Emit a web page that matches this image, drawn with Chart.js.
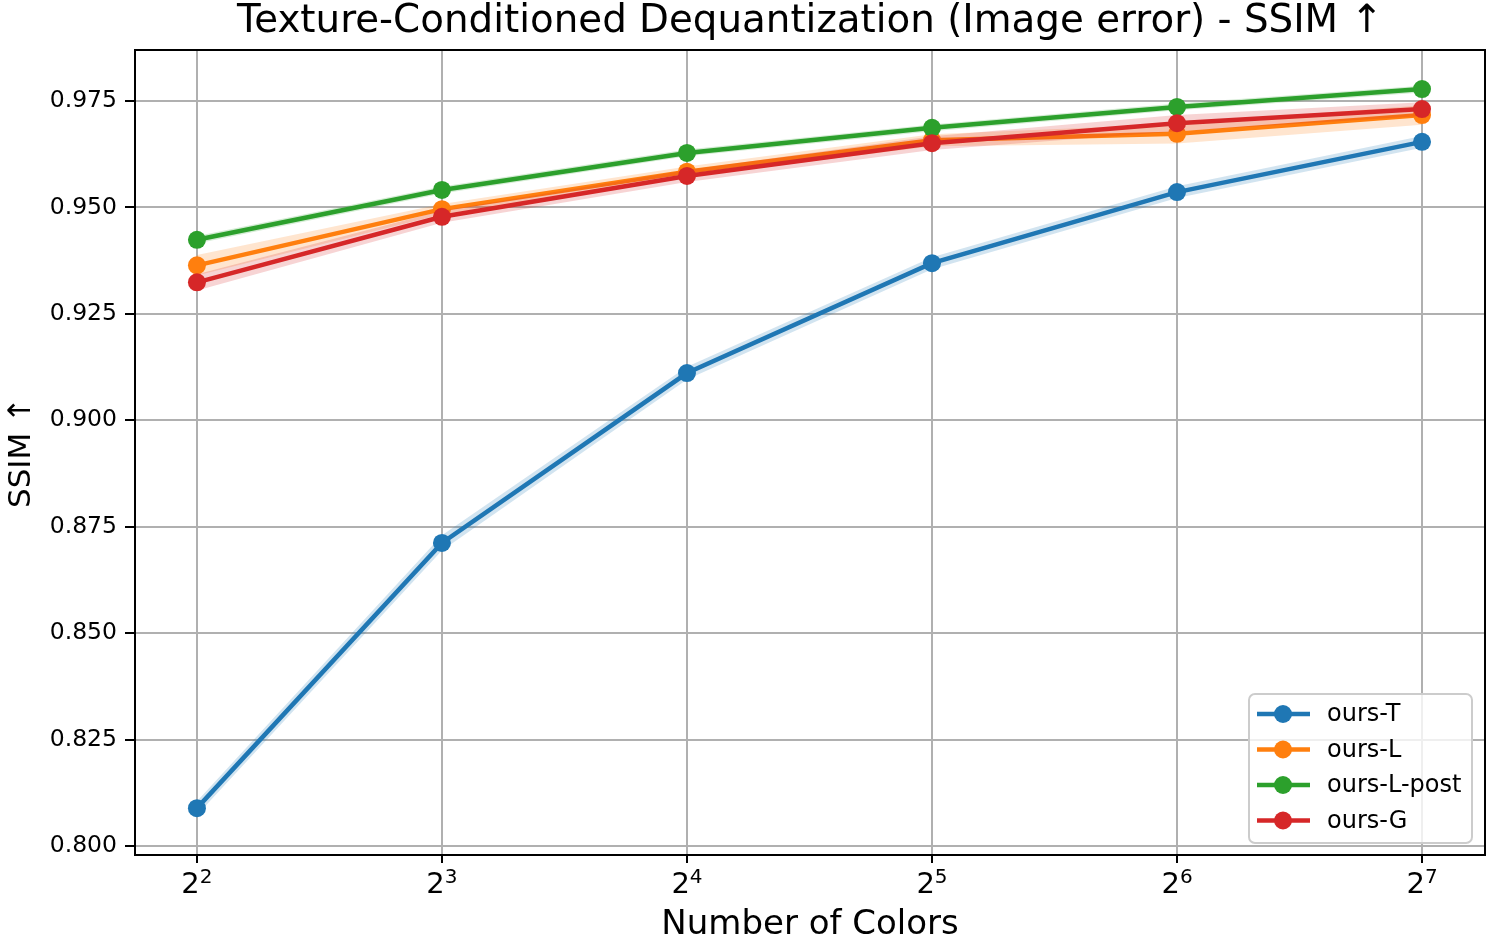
<!DOCTYPE html>
<html>
<head>
<meta charset="utf-8">
<script src="https://cdn.jsdelivr.net/npm/chart.js@4.4.1/dist/chart.umd.min.js"></script>
<style>
  body { margin: 0; background: #fff; }
  #wrap { width: 1494px; height: 952px; }
</style>
</head>
<body>
<div id="wrap"><canvas id="ssimChart" width="1494" height="952"></canvas></div>
<script>
// Data
const exponents = [2, 3, 4, 5, 6, 7];           // x = log2(number of colors)
const yTicks = [0.800, 0.825, 0.850, 0.875, 0.900, 0.925, 0.950, 0.975];

const seriesNames = ['ours-T', 'ours-L', 'ours-L-post', 'ours-G'];
const seriesColors = ['#1f77b4', '#ff7f0e', '#2ca02c', '#d62728'];

const oursT     = [0.8089, 0.8712, 0.9111, 0.9369, 0.9536, 0.9654];
const oursL     = [0.9364, 0.9496, 0.9584, 0.9658, 0.9673, 0.9717];
const oursLpost = [0.9424, 0.9541, 0.9628, 0.9687, 0.9736, 0.9778];
const oursG     = [0.9324, 0.9478, 0.9574, 0.9651, 0.9698, 0.9731];

// half-width of the shaded bands (std)
const oursTStd     = [0.0016, 0.0018, 0.0015, 0.0014, 0.0014, 0.0014];
const oursLStd     = [0.0024, 0.0012, 0.0012, 0.0014, 0.0023, 0.0023];
const oursLpostStd = [0.0009, 0.0008, 0.0008, 0.0008, 0.0008, 0.0008];
const oursGStd     = [0.0019, 0.0014, 0.0014, 0.0016, 0.0019, 0.0016];

const seriesMeans = [oursT, oursL, oursLpost, oursG];
const seriesStds = [oursTStd, oursLStd, oursLpostStd, oursGStd];

const FONT = "'DejaVu Sans', 'Liberation Sans', sans-serif";

function hexToRgba(hex, a) {
    const n = parseInt(hex.slice(1), 16);
    return `rgba(${(n >> 16) & 255}, ${(n >> 8) & 255}, ${n & 255}, ${a})`;
}

function points(values) {
    return exponents.map((x, i) => ({ x: x, y: values[i] }));
}

// build datasets: for each series an upper band, a lower band (filled to upper), then the line
const datasets = [];
seriesNames.forEach((name, i) => {
    const mean = seriesMeans[i];
    const std = seriesStds[i];
    const col = seriesColors[i];
    const base = 100 - i * 3;
    datasets.push({
        label: name + ' upper',
        data: points(mean.map((v, k) => v + std[k])),
        borderWidth: 0,
        pointRadius: 0,
        fill: false,
        order: base
    });
    datasets.push({
        label: name + ' lower',
        data: points(mean.map((v, k) => v - std[k])),
        borderWidth: 0,
        pointRadius: 0,
        backgroundColor: hexToRgba(col, 0.2),
        fill: '-1',
        order: base - 1
    });
    datasets.push({
        label: name,
        data: points(mean),
        borderColor: col,
        backgroundColor: col,
        borderWidth: 4.5,
        pointRadius: 9,
        pointBorderWidth: 0,
        pointBackgroundColor: col,
        fill: false,
        tension: 0,
        order: base - 2
    });
});

// frame, title, 2^n tick labels and the in-plot legend (matplotlib style)
const framePlugin = {
    id: 'framePlugin',
    afterDraw(chart) {
        const { ctx, chartArea: a } = chart;
        const xScale = chart.scales.x;
        ctx.save();

        // full black frame
        ctx.strokeStyle = '#000';
        ctx.lineWidth = 2;
        ctx.strokeRect(a.left, a.top, a.right - a.left, a.bottom - a.top);

        // title
        ctx.fillStyle = '#000';
        ctx.font = `38.8px ${FONT}`;
        ctx.textAlign = 'center';
        ctx.textBaseline = 'middle';
        ctx.fillText('Texture-Conditioned Dequantization (Image error) - SSIM ↑', (a.left + a.right) / 2, 22);

        // x tick labels as 2 with a raised exponent
        ctx.textBaseline = 'alphabetic';
        ctx.textAlign = 'left';
        exponents.forEach(e => {
            const px = xScale.getPixelForValue(e);
            ctx.font = `29px ${FONT}`;
            const wBase = ctx.measureText('2').width;
            ctx.font = `20px ${FONT}`;
            const wExp = ctx.measureText(String(e)).width;
            const x0 = px - (wBase + wExp) / 2;
            ctx.font = `29px ${FONT}`;
            ctx.fillText('2', x0, a.bottom + 38);
            ctx.font = `20px ${FONT}`;
            ctx.fillText(String(e), x0 + wBase, a.bottom + 28);
        });

        // legend box, lower right
        const boxW = 223, boxH = 149;
        const bx = a.right - 13 - boxW;
        const by = a.bottom - 12 - boxH;
        ctx.beginPath();
        ctx.roundRect(bx, by, boxW, boxH, 6);
        ctx.fillStyle = 'rgba(255,255,255,0.8)';
        ctx.fill();
        ctx.strokeStyle = '#cccccc';
        ctx.lineWidth = 2;
        ctx.stroke();

        ctx.font = `24px ${FONT}`;
        ctx.textAlign = 'left';
        ctx.textBaseline = 'middle';
        seriesNames.forEach((name, i) => {
            const y = by + 20 + i * 35.5;
            ctx.strokeStyle = seriesColors[i];
            ctx.lineWidth = 4.5;
            ctx.beginPath();
            ctx.moveTo(bx + 8, y);
            ctx.lineTo(bx + 61, y);
            ctx.stroke();
            ctx.fillStyle = seriesColors[i];
            ctx.beginPath();
            ctx.arc(bx + 34, y, 9, 0, Math.PI * 2);
            ctx.fill();
            ctx.fillStyle = '#000';
            ctx.fillText(name, bx + 78, y + 1);
        });
        ctx.restore();
    }
};

const chart = new Chart(document.getElementById('ssimChart'), {
    type: 'line',
    data: { datasets: datasets },
    options: {
        responsive: false,
        animation: false,
        layout: { padding: { top: 50, right: 8, left: 0, bottom: 0 } },
        plugins: {
            legend: { display: false },
            title: { display: false },
            tooltip: { enabled: false },
            filler: { propagate: false }
        },
        scales: {
            x: {
                type: 'linear',
                min: 1.7472,
                max: 7.257,
                afterBuildTicks: (scale) => {
                    scale.ticks = exponents.map(v => ({ value: v }));
                },
                afterFit: (scale) => { scale.height = 97; },
                ticks: { display: false },
                grid: {
                    color: '#b0b0b0',
                    lineWidth: 2,
                    tickColor: '#000',
                    tickLength: 8
                },
                border: { display: false },
                title: {
                    display: true,
                    text: 'Number of Colors',
                    color: '#000',
                    font: { family: FONT, size: 34 },
                    padding: { top: 0, bottom: 6 }
                }
            },
            y: {
                type: 'linear',
                min: 0.79789,
                max: 0.98698,
                afterBuildTicks: (scale) => {
                    scale.ticks = yTicks.map(v => ({ value: v }));
                },
                afterFit: (scale) => { scale.width = 135; },
                ticks: {
                    padding: 8,
                    color: '#000',
                    font: { family: FONT, size: 23.5 },
                    callback: (v) => v.toFixed(3)
                },
                grid: {
                    color: '#b0b0b0',
                    lineWidth: 2,
                    tickColor: '#000',
                    tickLength: 10
                },
                border: { display: false },
                title: {
                    display: true,
                    text: 'SSIM ↑',
                    color: '#000',
                    font: { family: FONT, size: 31 },
                    padding: { top: 3, bottom: 0 }
                }
            }
        }
    },
    plugins: [framePlugin]
});
</script>
</body>
</html>
